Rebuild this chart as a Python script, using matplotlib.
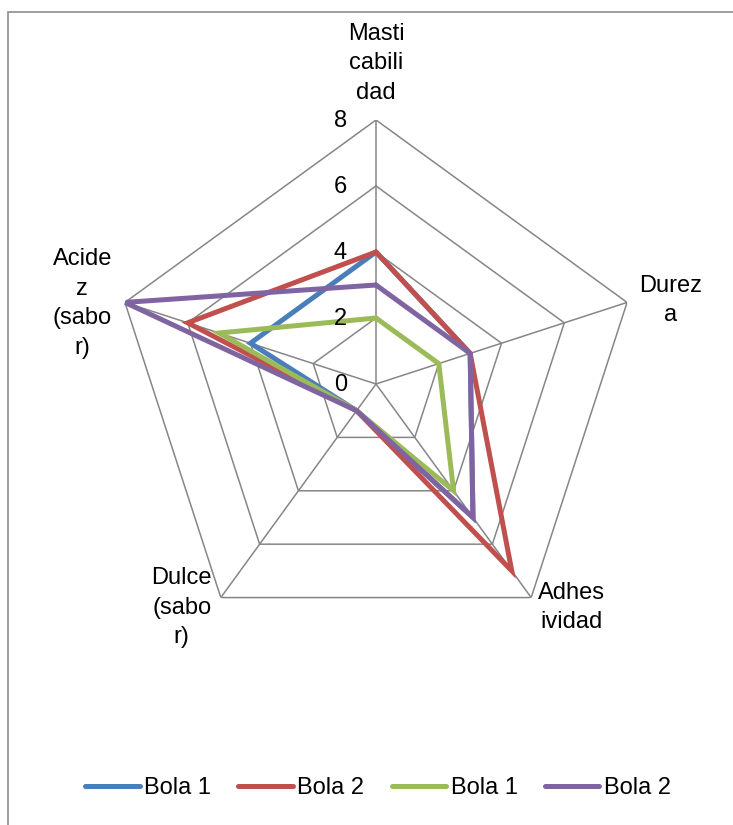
import numpy as np
import matplotlib
matplotlib.use("Agg")
import matplotlib.pyplot as plt
from matplotlib.patches import Rectangle

plt.rcParams['font.family'] = ['Liberation Sans', 'DejaVu Sans']

# categorias del radar (texto partido en lineas como en la hoja)
categorias = ["Masti\ncabili\ndad", "Durez\na", "Adhes\nividad", "Dulce\n(sabo\nr)", "Acide\nz\n(sabo\nr)"]
bola1_a = [4, 3, 5, 1, 4]
bola2_a = [4, 3, 7, 1, 6]
bola1_b = [2, 2, 4, 1, 5]
bola2_b = [3, 3, 5, 1, 8]
series = ["Bola 1", "Bola 2", "Bola 1", "Bola 2"]
colores = ["#4A7EBB", "#C0504D", "#9BBB59", "#8064A2"]
escala = [0, 2, 4, 6, 8]

W, H = 733, 825
fs = 17
fig = plt.figure(figsize=(W / 100, H / 100), dpi=100)

# marco del grafico
fig.patches.append(Rectangle((8 / W, -0.1), 1.2, 1 - 12 / H + 0.1, transform=fig.transFigure,
                             fill=False, edgecolor="#8c8c8c", lw=1.2))

cx, cy, R = 376, 384, 264
ax = fig.add_axes([(cx - R) / W, (H - cy - R) / H, 2 * R / W, 2 * R / H], projection="polar")
ax.set_theta_offset(np.pi / 2)
ax.set_theta_direction(-1)
ax.set_ylim(0, 8)
ax.set_axis_off()

n = len(categorias)
ang = np.linspace(0, 2 * np.pi, n, endpoint=False)
ang_c = np.append(ang, ang[0])

# rejilla pentagonal
for r in escala[1:]:
    ax.plot(ang_c, [r] * (n + 1), color="#868686", lw=1.1, zorder=1)
for a in ang:
    ax.plot([a, a], [0, 8], color="#868686", lw=1.1, zorder=1)

for vals, nombre, c in zip([bola1_a, bola2_a, bola1_b, bola2_b], series, colores):
    ax.plot(ang_c, vals + vals[:1], color=c, lw=3.6, label=nombre, zorder=3,
            solid_joinstyle="miter", solid_capstyle="round")

# etiquetas de la escala
for r in escala:
    ax.annotate(str(r), (0, r), xytext=(-29, -1), textcoords="offset pixels",
                ha="right", va="center", fontsize=fs)

# etiquetas de las categorias
pos = [((0, 16), "center", "bottom"),
       ((12, 2), "left", "center"),
       ((7, -10), "left", "center"),
       ((-9, -10), "right", "center"),
       ((-13, -1), "right", "center")]
for a, txt, (off, ha, va) in zip(ang, categorias, pos):
    ax.annotate(txt, (a, 8), xytext=off, textcoords="offset pixels", ha=ha, va=va,
                multialignment="center", fontsize=fs, linespacing=1.45,
                annotation_clip=False)

fig.legend(loc="center", bbox_to_anchor=(378 / W, 1 - 788 / H), ncol=4, frameon=False,
           fontsize=fs, handlelength=2.3, handletextpad=0.2, columnspacing=1.15)

fig.savefig("out.png", dpi=100)
